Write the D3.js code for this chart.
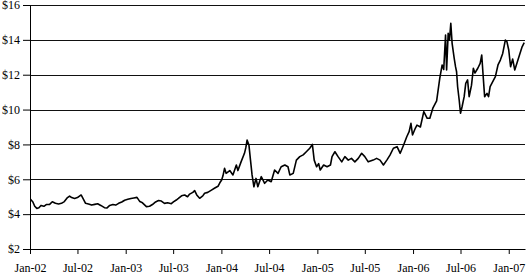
<!DOCTYPE html>
<html>
<head>
    <meta charset="utf-8">
    <title>Price 2002 - 2007</title>
    <style>
        body { margin: 0; background: #fff; }
        .axis text { font-family: 'Liberation Serif', 'Times New Roman', serif; font-size: 12px; fill: #000; }
        .axis path, .axis line { stroke: #000; }
    </style>
</head>
<body>

<script src="https://d3js.org/d3.v7.min.js"></script>
<script type="text/javascript">

// values
var dates = [
    "2002-01-03","2002-01-12","2002-01-19","2002-01-27","2002-02-04","2002-02-12","2002-02-23","2002-03-04",
    "2002-03-16","2002-03-27","2002-04-08","2002-04-20","2002-05-01","2002-05-12","2002-05-24","2002-06-01",
    "2002-06-09","2002-06-20","2002-07-01","2002-07-15","2002-07-24","2002-08-01","2002-08-12","2002-08-24",
    "2002-09-05","2002-09-16","2002-09-28","2002-10-12","2002-10-21","2002-11-01","2002-11-13","2002-11-24",
    "2002-12-05","2002-12-17","2002-12-28","2003-01-09","2003-01-21","2003-02-01","2003-02-13","2003-02-24",
    "2003-03-06","2003-03-21","2003-04-02","2003-04-13","2003-04-25","2003-05-06","2003-05-17","2003-05-29",
    "2003-06-10","2003-06-24","2003-07-02","2003-07-13","2003-07-21","2003-08-02","2003-08-14","2003-08-25",
    "2003-09-02","2003-09-14","2003-09-21","2003-09-29","2003-10-10","2003-10-22","2003-10-29","2003-11-10",
    "2003-11-24","2003-12-07","2003-12-19","2003-12-26","2004-01-02","2004-01-07","2004-01-13","2004-01-19",
    "2004-02-02","2004-02-14","2004-02-27","2004-03-04","2004-03-16","2004-03-29","2004-04-03","2004-04-08",
    "2004-04-15","2004-04-21","2004-04-27","2004-05-04","2004-05-12","2004-05-19","2004-06-01","2004-06-14",
    "2004-06-26","2004-07-09","2004-07-22","2004-08-04","2004-08-16","2004-08-30","2004-09-11","2004-09-18",
    "2004-10-01","2004-10-13","2004-10-26","2004-11-08","2004-11-20","2004-12-03","2004-12-13","2004-12-20",
    "2004-12-29","2005-01-06","2005-01-12","2005-01-25","2005-02-07","2005-02-20","2005-02-26","2005-03-09",
    "2005-03-21","2005-04-04","2005-04-16","2005-04-29","2005-05-11","2005-05-24","2005-06-06","2005-06-19",
    "2005-07-01","2005-07-14","2005-08-02","2005-08-15","2005-08-28","2005-09-10","2005-09-23","2005-10-05",
    "2005-10-18","2005-11-01","2005-11-13","2005-11-26","2005-12-08","2005-12-17","2005-12-24","2005-12-30",
    "2006-01-10","2006-01-16","2006-01-29","2006-02-11","2006-02-24","2006-03-06","2006-03-18","2006-04-01",
    "2006-04-13","2006-04-22","2006-04-28","2006-05-05","2006-05-09","2006-05-15","2006-05-20","2006-05-25",
    "2006-05-30","2006-06-07","2006-06-12","2006-06-16","2006-06-20","2006-06-26","2006-07-01","2006-07-07",
    "2006-07-15","2006-07-21","2006-07-28","2006-08-03","2006-08-12","2006-08-19","2006-08-25","2006-09-05",
    "2006-09-14","2006-09-20","2006-09-26","2006-10-01","2006-10-10","2006-10-16","2006-10-22","2006-11-01",
    "2006-11-11","2006-11-21","2006-11-30","2006-12-09","2006-12-19","2006-12-25","2007-01-01","2007-01-08",
    "2007-01-16","2007-01-24","2007-02-02","2007-02-11","2007-02-21","2007-03-01"
];

var prices = [
    4.85, 4.70, 4.45, 4.33, 4.37, 4.50, 4.45, 4.55,
    4.55, 4.71, 4.62, 4.58, 4.62, 4.72, 4.95, 5.04,
    4.95, 4.90, 4.95, 5.10, 4.85, 4.62, 4.58, 4.52,
    4.56, 4.60, 4.50, 4.37, 4.35, 4.50, 4.55, 4.52,
    4.62, 4.70, 4.80, 4.85, 4.90, 4.93, 4.96, 4.72,
    4.65, 4.43, 4.45, 4.55, 4.70, 4.78, 4.75, 4.62,
    4.65, 4.60, 4.70, 4.81, 4.90, 5.05, 5.10, 5.00,
    5.15, 5.25, 5.35, 5.10, 4.91, 5.05, 5.20, 5.25,
    5.38, 5.50, 5.60, 5.80, 5.96, 6.20, 6.63, 6.34,
    6.50, 6.25, 6.82, 6.50, 7.00, 7.49, 7.80, 8.25,
    7.97, 7.10, 6.25, 5.57, 6.05, 5.57, 6.15, 5.77,
    5.96, 5.86, 6.53, 6.34, 6.72, 6.82, 6.72, 6.25,
    6.34, 7.10, 7.30, 7.40, 7.58, 7.78, 8.00, 7.10,
    6.72, 6.90, 6.53, 6.82, 6.72, 6.82, 7.30, 7.58,
    7.30, 7.00, 7.30, 7.10, 7.20, 7.00, 7.20, 7.49,
    7.30, 7.00, 7.10, 7.20, 7.10, 6.82, 7.10, 7.39,
    7.78, 7.87, 7.49, 7.97, 8.44, 8.73, 9.21, 8.54,
    8.94, 9.11, 9.00, 9.88, 9.50, 9.50, 10.10, 10.50,
    11.80, 12.56, 12.30, 14.28, 12.27, 14.37, 13.99, 14.95,
    13.80, 12.94, 12.46, 12.17, 11.31, 10.55, 9.79, 10.16,
    10.74, 11.50, 11.70, 10.74, 11.40, 12.37, 12.10, 12.37,
    12.65, 13.13, 11.80, 10.74, 10.93, 10.74, 11.31, 11.60,
    11.89, 12.56, 12.84, 13.22, 13.99, 13.90, 13.42, 12.46,
    12.90, 12.27, 12.70, 13.13, 13.60, 13.84
];

var yTicks = [2, 4, 6, 8, 10, 12, 14, 16];
var xTickLabels = ["Jan-02","Jul-02","Jan-03","Jul-03","Jan-04","Jul-04",
                   "Jan-05","Jul-05","Jan-06","Jul-06","Jan-07"];

var margin = {top:5, right:3, bottom:25, left:30},
    width  = 528 - margin.left - margin.right,
    height = 274 - margin.top - margin.bottom;

var parseDate = d3.timeParse("%Y-%m-%d");
var parseTick = d3.timeParse("%b-%y");

var data = dates.map(function(d, i) {
    return { date: parseDate(d), price: prices[i] };
});

var x = d3.scaleTime()
    .domain([parseDate("2002-01-01"), parseDate("2007-03-04")])
    .range([0, width]);
var y = d3.scaleLinear().domain([2, 16]).range([height, 0]);

var priceLine = d3.line()
    .x(function(d) { return x(d.date); })
    .y(function(d) { return y(d.price); });

var svg = d3.select("body")
    .append("svg")
    .attr("width", width + margin.left + margin.right)
    .attr("height", height + margin.top + margin.bottom);

var chart = svg.append("g")
    .attr("transform", "translate(" + margin.left + "," + margin.top + ")");

// horizontal grid lines
chart.append("g")
    .selectAll("line")
    .data(yTicks.slice(1))
    .enter().append("line")
    .attr("x1", 0)
    .attr("x2", width)
    .attr("y1", function(d) { return Math.round(y(d)) + 0.5; })
    .attr("y2", function(d) { return Math.round(y(d)) + 0.5; })
    .style("stroke", "#111")
    .style("stroke-width", "1px");

chart.append("g")
    .attr("class", "axis")
    .attr("transform", "translate(0," + height + ")")
    .call(d3.axisBottom(x)
        .tickValues(xTickLabels.map(function(t) { return parseTick(t); }))
        .tickFormat(d3.timeFormat("%b-%y"))
        .tickSize(5)
        .tickSizeOuter(0)
        .tickPadding(9));

chart.append("g")
    .attr("class", "axis")
    .call(d3.axisLeft(y)
        .tickValues(yTicks)
        .tickFormat(function(d) { return "$" + d; })
        .tickSize(7)
        .tickSizeOuter(0)
        .tickPadding(3));

chart.append("path")
    .datum(data)
    .attr("d", priceLine)
    .style("stroke", "black")
    .style("stroke-width", "1.6px")
    .style("stroke-linejoin", "round")
    .style("fill", "none");

</script>

</body>
</html>
